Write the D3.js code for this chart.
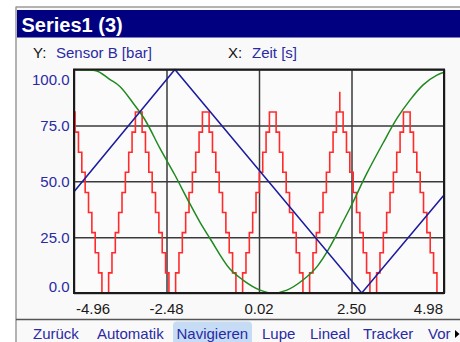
<!DOCTYPE html>
<html><head><meta charset="utf-8">
<script src="https://cdn.jsdelivr.net/npm/d3@7"></script>
<style>
html,body{margin:0;padding:0;background:#fff;}
svg{display:block;font-family:"Liberation Sans",Arial,sans-serif;}
</style>
</head><body><svg id="c" width="460" height="342"></svg>
<script>
// ---------- data ----------
const title = "Series1 (3)";
const yAxisName = "Sensor B [bar]";
const xAxisName = "Zeit [s]";
const yTicks = [0, 25, 50, 75, 100];
const yTickLabels = ["0.0", "25.0", "50.0", "75.0", "100.0"];
const xTicks = [-4.96, -2.475, 0.01, 2.495, 4.98];
const xTickLabels = ["-4.96", "-2.48", "0.02", "2.50", "4.98"];
const toolbarItems = ["Zurück", "Automatik", "Navigieren", "Lupe", "Lineal", "Tracker", "Vor"];
const activeItem = "Navigieren";

const greenTime = [-4.96, -4.40, -3.99, -3.72, -3.37, -3.05, -2.65, -2.25, -1.90, -1.57, -1.31, -0.77, -0.42, 0.04, 0.39, 0.76, 1.19, 1.57, 1.92, 2.27, 2.45, 2.91, 3.34, 3.72, 4.07, 4.42, 4.79, 4.98];
const greenValue = [100, 99.6, 95.5, 92.3, 84.9, 77.4, 64.7, 52.8, 41.6, 31.5, 24.5, 10.7, 5.8, 1.3, 0, 1.3, 5.8, 11.8, 20.7, 32.0, 37.8, 53.6, 67.0, 78.2, 86.4, 93.1, 97.5, 98.8];

const blueTime = [-4.96, -2.25, 2.77, 4.98];
const blueValue = [45.3, 100, 0, 43.8];

const redTime = [-4.96,
 -4.93, -4.84, -4.75, -4.66, -4.57, -4.48, -4.39, -4.30, -4.21, -4.12,
 -4.03, -3.94, -3.85, -3.76, -3.67, -3.58, -3.49, -3.40, -3.31, -3.22,
 -3.13, -3.04, -2.95, -2.86, -2.77, -2.68, -2.59, -2.50, -2.41, -2.32,
 -2.23, -2.14, -2.05, -1.96, -1.87, -1.78, -1.69, -1.60, -1.51, -1.42,
 -1.33, -1.24, -1.15, -1.06, -0.97, -0.88, -0.79, -0.70, -0.61, -0.52,
 -0.43, -0.34, -0.25, -0.16, -0.07, 0.02, 0.11, 0.20, 0.29, 0.38,
 0.47, 0.56, 0.65, 0.74, 0.83, 0.92, 1.01, 1.10, 1.19, 1.28,
 1.37, 1.46, 1.55, 1.64, 1.73, 1.82, 1.91, 2.00, 2.09, 2.18, 2.18,
 2.27, 2.36, 2.45, 2.54, 2.63, 2.72, 2.81, 2.90, 2.99, 3.08,
 3.17, 3.26, 3.35, 3.44, 3.53, 3.62, 3.71, 3.80, 3.89, 3.98,
 4.07, 4.16, 4.25, 4.34, 4.43, 4.52, 4.61, 4.70, 4.79, 4.88, 4.98];
const redValue = [81,
 72, 63, 54, 45, 36, 27, 18, 9, 0, 0,
 9, 18, 27, 36, 45, 54, 63, 72, 81, 81,
 72, 63, 54, 45, 36, 27, 18, 9, 0, 0,
 9, 18, 27, 36, 45, 54, 63, 72, 81, 81,
 72, 63, 54, 45, 36, 27, 18, 9, 0, 0,
 9, 18, 27, 36, 45, 54, 63, 72, 81, 81,
 72, 63, 54, 45, 36, 27, 18, 9, 0, 0,
 9, 18, 27, 36, 45, 54, 63, 72, 81, 90, 81,
 72, 63, 54, 45, 36, 27, 18, 9, 0, 0,
 9, 18, 27, 36, 45, 54, 63, 72, 81, 81,
 72, 63, 54, 45, 36, 27, 18, 9, 0, 0, 0];

// ---------- layout ----------
const W = 460, H = 342;
const plot = {left: 74, right: 444, top: 69.5, bottom: 293};
const blueText = "#2a2aa4";
const svg = d3.select("#c");

// panel
svg.append("rect").attr("x", 16).attr("y", 7).attr("width", W - 16).attr("height", H - 7).attr("fill", "#f9f9f9");
svg.append("line").attr("x1", 16).attr("x2", 16).attr("y1", 6.5).attr("y2", H).attr("stroke", "#9a9a9a").attr("stroke-width", 1.5);
svg.append("line").attr("x1", 16).attr("x2", W).attr("y1", 7).attr("y2", 7).attr("stroke", "#9a9a9a").attr("stroke-width", 1.5);

// title bar
svg.append("rect").attr("x", 17).attr("y", 10).attr("width", W - 17).attr("height", 27.5).attr("fill", "#000080");
svg.append("text").attr("x", 21.5).attr("y", 32).attr("fill", "#fff").attr("font-size", 20).attr("font-weight", "bold").text(title);

// header
const hdr = svg.append("g").attr("font-size", 15);
hdr.append("text").attr("x", 33).attr("y", 58).attr("fill", "#111").text("Y:");
hdr.append("text").attr("x", 56).attr("y", 58).attr("fill", blueText).text(yAxisName);
hdr.append("text").attr("x", 228).attr("y", 58).attr("fill", "#111").text("X:");
hdr.append("text").attr("x", 252).attr("y", 58).attr("fill", blueText).text(xAxisName);

// scales
const x = d3.scaleLinear().domain([xTicks[0], xTicks[xTicks.length - 1]]).range([plot.left, plot.right]);
const y = d3.scaleLinear().domain([0, 100]).range([plot.bottom, plot.top]);

// plot background
svg.append("rect").attr("x", plot.left).attr("y", plot.top).attr("width", plot.right - plot.left).attr("height", plot.bottom - plot.top).attr("fill", "#fbfbfb");

// grid via axes
const gridY = svg.append("g").attr("transform", `translate(${plot.left},0)`)
  .call(d3.axisLeft(y).tickValues(yTicks).tickSize(-(plot.right - plot.left)).tickFormat(""));
const gridX = svg.append("g").attr("transform", `translate(0,${plot.bottom})`)
  .call(d3.axisBottom(x).tickValues(xTicks).tickSize(-(plot.bottom - plot.top)).tickFormat(""));
[gridY, gridX].forEach(g => {
  g.select(".domain").remove();
  g.selectAll(".tick line").attr("stroke", "#3a3a3a").attr("stroke-width", 1.5);
});

// clip
svg.append("clipPath").attr("id", "pc").append("rect")
  .attr("x", plot.left).attr("y", plot.top - 1).attr("width", plot.right - plot.left).attr("height", plot.bottom - plot.top + 2);
const lines = svg.append("g").attr("clip-path", "url(#pc)").attr("fill", "none");

const zip = (t, v) => t.map((d, i) => [d, v[i]]);
const smooth = d3.line().x(d => x(d[0])).y(d => y(d[1])).curve(d3.curveMonotoneX);
const straight = d3.line().x(d => x(d[0])).y(d => y(d[1]));
const stepped = d3.line().x(d => x(d[0])).y(d => y(d[1])).curve(d3.curveStepAfter);

lines.append("path").attr("d", stepped(zip(redTime, redValue))).attr("stroke", "#ff2b2b").attr("stroke-width", 1.6);
lines.append("path").attr("d", smooth(zip(greenTime, greenValue))).attr("stroke", "#1f8a1f").attr("stroke-width", 1.5);
lines.append("path").attr("d", straight(zip(blueTime, blueValue))).attr("stroke", "#1c1ca0").attr("stroke-width", 1.5);

// frame
svg.append("rect").attr("x", plot.left).attr("y", plot.top).attr("width", plot.right - plot.left).attr("height", plot.bottom - plot.top)
  .attr("fill", "none").attr("stroke", "#1a1a1a").attr("stroke-width", 2);

// y tick labels
svg.append("g").attr("font-size", 15).attr("fill", blueText).attr("text-anchor", "end")
  .selectAll("text").data(yTicks).join("text")
  .attr("x", 69.5)
  .attr("y", d => Math.min(Math.max(y(d) + 5.5, plot.top + 15.5), plot.bottom - 1.5))
  .text((d, i) => yTickLabels[i]);

// x tick labels
const xl = svg.append("g").attr("font-size", 15).attr("fill", "#1a1a1a").attr("text-anchor", "middle")
  .selectAll("text").data(xTicks).join("text")
  .attr("y", 313.5)
  .text((d, i) => xTickLabels[i]);
xl.attr("x", function(d) {
  const w = this.getComputedTextLength();
  return Math.min(Math.max(x(d), plot.left + 2 + w / 2), plot.right - 1 + 0 - w / 2);
});

// toolbar
svg.append("line").attr("x1", 16).attr("x2", W).attr("y1", 319.5).attr("y2", 319.5).attr("stroke", "#555").attr("stroke-width", 1.5);
const itemX = [33, 97, 176.5, 262, 310, 363, 428];
const tb = svg.append("g").attr("font-size", 15);
toolbarItems.forEach((name, i) => {
  if (name === activeItem) {
    tb.append("rect").attr("x", itemX[i] - 3.5).attr("y", 321.5).attr("width", 79).attr("height", 26).attr("rx", 4)
      .attr("fill", "#c6dcf5");
  }
  tb.append("text").attr("x", itemX[i]).attr("y", 339).attr("fill", blueText).text(name);
});
svg.append("path").attr("d", "M455,330 L459.5,334 L455,338 Z").attr("fill", "#000");
</script>
</body></html>
